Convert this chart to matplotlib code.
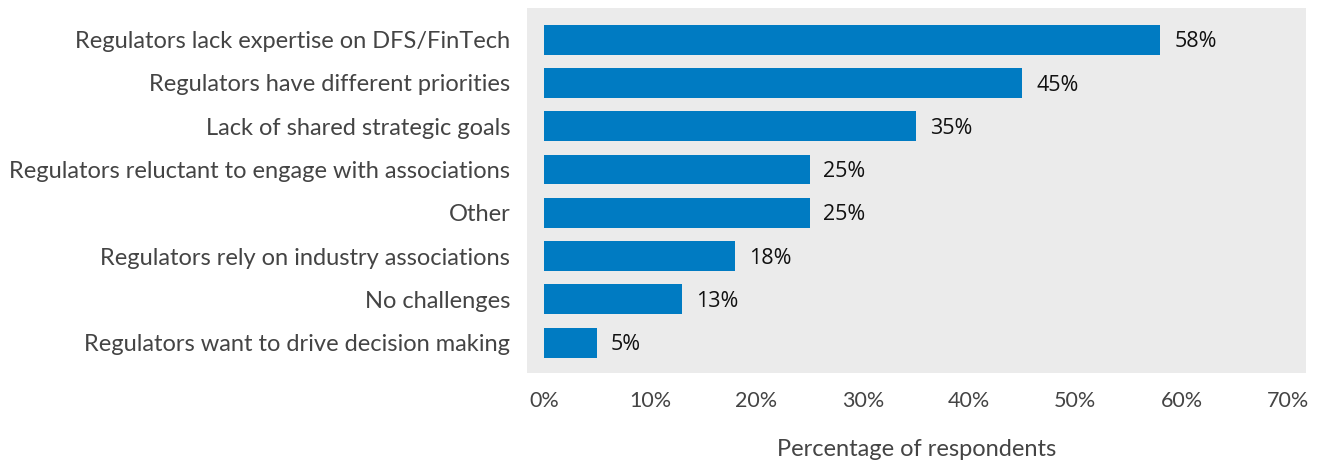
import matplotlib
matplotlib.use("Agg")
import matplotlib.pyplot as plt
import numpy as np

BLUE = "#007BC2"; PANEL = "#EBEBEB"; TXT = "#444444"

categories = ["Regulators lack expertise on DFS/FinTech",
              "Regulators have different priorities",
              "Lack of shared strategic goals",
              "Regulators reluctant to engage with associations",
              "Other",
              "Regulators rely on industry associations",
              "No challenges",
              "Regulators want to drive decision making"]
values = [58, 45, 35, 25, 25, 18, 13, 5]
xticks = [0, 10, 20, 30, 40, 50, 60, 70]

fig = plt.figure(figsize=(13.25, 4.61), dpi=100)
ax = fig.add_axes([0.3977, 0.1909, 0.588, 0.7917])
ax.set_facecolor(PANEL)
for s in ax.spines.values():
    s.set_visible(False)

y = np.arange(len(categories))[::-1]
ax.barh(y, values, height=0.69, color=BLUE)
for yi, v in zip(y, values):
    ax.text(v + 1.3, yi - 0.05, f"{v}%", va="center", ha="left",
            fontsize=15.5, family="Open Sans", color="#111111")

ax.set_yticks(y)
ax.set_yticklabels(categories, fontsize=17, family="Lato", color=TXT)
ax.set_xticks(xticks)
ax.set_xticklabels([f"{t}%" for t in xticks], fontsize=15.5, family="Lato", color=TXT)
ax.tick_params(axis="both", length=0)
ax.tick_params(axis="x", pad=13)
ax.tick_params(axis="y", pad=12)
ax.set_xlim(-1.6, 71.7)
ax.set_ylim(-0.7, 7.73)
ax.set_xlabel("Percentage of respondents", fontsize=17, family="Lato",
              color=TXT, labelpad=20)

fig.savefig("out.png", dpi=100)
